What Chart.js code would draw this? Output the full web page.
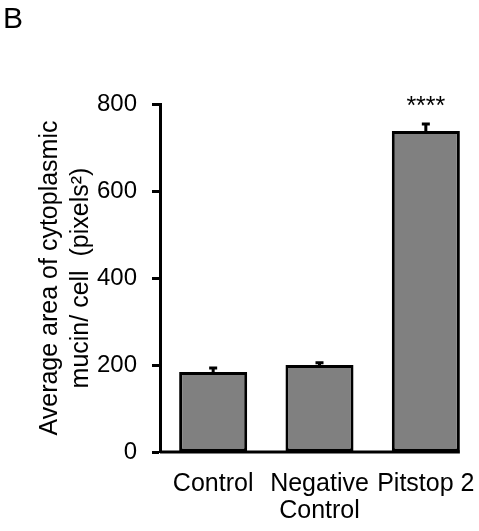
<!DOCTYPE html>
<html>
<head>
<meta charset="utf-8">
<script src="https://cdn.jsdelivr.net/npm/chart.js@4.4.1/dist/chart.umd.min.js"></script>
<style>
  html, body { margin: 0; padding: 0; background: #fff; }
  #wrap { width: 479px; height: 531px; position: relative; }
</style>
</head>
<body>
<div id="wrap"><canvas id="chart"></canvas></div>
<script>
const categories = ['Control', ['Negative', 'Control'], 'Pitstop 2'];
const means = [184, 200, 738];
const errors = [9, 5, 16];
const marks = ['', '', '****'];
const yTicks = [0, 200, 400, 600, 800];

const FONT = "'Liberation Sans', Arial, sans-serif";

// error bars (upper half only), x axis line, significance stars, panel letter
const extras = {
  id: 'extras',
  afterDatasetsDraw(chart) {
    const ctx = chart.ctx;
    const y = chart.scales.y;
    const bars = chart.getDatasetMeta(0).data;
    ctx.save();
    ctx.strokeStyle = '#000';
    ctx.lineWidth = 3;
    bars.forEach((bar, i) => {
      const top = y.getPixelForValue(means[i] + errors[i]);
      const base = y.getPixelForValue(means[i]);
      ctx.beginPath();
      ctx.moveTo(bar.x, base);
      ctx.lineTo(bar.x, top);
      ctx.moveTo(bar.x - 4, top);
      ctx.lineTo(bar.x + 4, top);
      ctx.stroke();
      if (marks[i]) {
        ctx.fillStyle = '#000';
        ctx.font = '25px ' + FONT;
        ctx.textAlign = 'center';
        ctx.textBaseline = 'alphabetic';
        ctx.fillText(marks[i], bar.x, top - 10);
      }
    });
    // x axis line stops at the right edge of the last bar
    const last = bars[bars.length - 1];
    const area = chart.chartArea;
    ctx.beginPath();
    ctx.moveTo(area.left, area.bottom);
    ctx.lineTo(last.x + last.width / 2, area.bottom);
    ctx.stroke();

    ctx.fillStyle = '#000';
    ctx.font = '30px ' + FONT;
    ctx.textAlign = 'left';
    ctx.textBaseline = 'alphabetic';
    ctx.fillText('B', 3, 28);
    ctx.restore();
  }
};

new Chart(document.getElementById('chart'), {
  type: 'bar',
  data: {
    labels: categories,
    datasets: [{
      data: means,
      backgroundColor: '#808080',
      borderColor: '#000',
      borderWidth: 3,
      borderSkipped: false,
      barPercentage: 0.64,
      categoryPercentage: 1
    }]
  },
  options: {
    responsive: true,
    maintainAspectRatio: false,
    animation: false,
    layout: { padding: { top: 104, left: 0, right: 0, bottom: 0 } },
    plugins: {
      legend: { display: false },
      tooltip: { enabled: false }
    },
    scales: {
      x: {
        grid: { display: false, drawTicks: false },
        border: { display: false },
        ticks: {
          color: '#000',
          padding: 19,
          maxRotation: 0,
          autoSkip: false,
          font: { family: FONT, size: 25, lineHeight: 1.08 }
        },
        afterFit(scale) {
          scale.height = 79;
          scale.paddingLeft = 0;
          scale.paddingRight = 0;
        }
      },
      y: {
        min: 0,
        max: 800,
        afterBuildTicks(scale) { scale.ticks = yTicks.map(v => ({ value: v })); },
        grid: {
          drawOnChartArea: false,
          drawTicks: true,
          tickLength: 8,
          tickColor: '#000',
          tickWidth: 3
        },
        border: { display: true, color: '#000', width: 3 },
        ticks: {
          color: '#000',
          padding: 15,
          font: { family: FONT, size: 24 }
        },
        title: {
          display: true,
          text: ['Average area of cytoplasmic', 'mucin/ cell  (pixels\u00B2)'],
          color: '#000',
          padding: { top: 35, bottom: 0 },
          font: { family: FONT, size: 25, lineHeight: 1.24 }
        },
        afterFit(scale) { scale.width = 160; }
      }
    }
  },
  plugins: [extras]
});
</script>
</body>
</html>
